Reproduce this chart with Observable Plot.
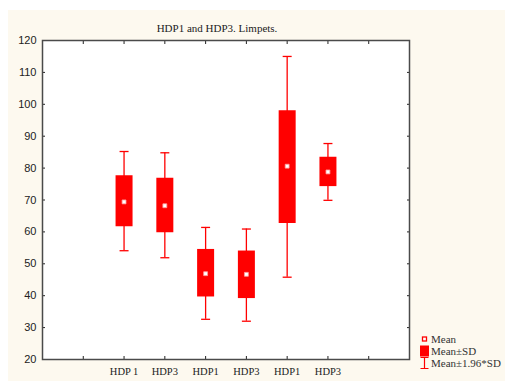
<!DOCTYPE html>
<html>
<head>
<meta charset="utf-8">
<script src="https://cdn.jsdelivr.net/npm/d3@7"></script>
<script src="https://cdn.jsdelivr.net/npm/@observablehq/plot@0.6"></script>
<style>
  html, body { margin: 0; padding: 0; background: white; }
  #wrap { position: relative; width: 505px; height: 381px; overflow: hidden; }
  #bg { position: absolute; left: 8px; top: 10px; width: 497px; height: 371px; background: #fdf9ef; }
  #chart { position: absolute; left: 0; top: 0; }
  #legend { position: absolute; left: 419px; top: 333px; font-family: "Liberation Serif", "DejaVu Serif", serif; font-size: 11px; color: #333; }
  #legend div { height: 12px; line-height: 12px; display: flex; align-items: center; }
  #legend svg { width: 11px; height: 12px; margin-right: 1px; overflow: visible; }
</style>
</head>
<body>
<div id="wrap">
  <div id="bg"></div>
  <div id="chart"></div>
  <div id="legend"></div>
</div>
<script>
// ---- data ----
const title = "HDP1 and HDP3. Limpets.";
const categories = ["HDP 1", "HDP3", "HDP1", "HDP3", "HDP1", "HDP3"];
const means   = [69.4, 68.2, 46.9, 46.7, 80.6, 78.8];
const sdLow   = [61.6, 59.7, 39.6, 39.1, 62.6, 74.2];
const sdHigh  = [77.6, 76.8, 54.5, 54.0, 98.0, 83.4];
const ciLow   = [54.1, 51.9, 32.6, 32.0, 45.8, 69.9];
const ciHigh  = [85.2, 84.8, 61.4, 60.9, 115.0, 87.7];
const yTicks  = [20, 30, 40, 50, 60, 70, 80, 90, 100, 110, 120];
const xTicks  = [0, 1, 2, 3, 4, 5, 6, 7, 8, 9];
const legendLabels = ["Mean", "Mean±SD", "Mean±1.96*SD"];

const firstSlot = 2; // categories occupy slots 2..7 of a 0..9 axis
const data = categories.map((c, i) => ({
  label: c, pos: i + firstSlot, mean: means[i],
  sdLo: sdLow[i], sdHi: sdHigh[i], ciLo: ciLow[i], ciHi: ciHigh[i]
}));

const RED = "#ff0000";
const FRAME = "#4a4a4a";
const capSymbol = { draw(ctx) { ctx.moveTo(-4.5, 0); ctx.lineTo(4.5, 0); } };

const chart = Plot.plot({
  width: 505, height: 381,
  marginLeft: 42, marginRight: 96, marginTop: 40, marginBottom: 22,
  style: { background: "transparent", overflow: "visible" },
  x: { type: "linear", domain: [0, 9] },
  y: { domain: [20, 120] },
  marks: [
    Plot.frame({ fill: "white", stroke: "none" }),
    // whiskers
    Plot.ruleX(data, { x: "pos", y1: "ciLo", y2: "ciHi", stroke: RED, strokeWidth: 1.3 }),
    Plot.dot(data, { x: "pos", y: "ciLo", symbol: capSymbol, stroke: RED, strokeWidth: 1.3, fill: "none" }),
    Plot.dot(data, { x: "pos", y: "ciHi", symbol: capSymbol, stroke: RED, strokeWidth: 1.3, fill: "none" }),
    // boxes
    Plot.ruleX(data, { x: "pos", y1: "sdLo", y2: "sdHi", stroke: RED, strokeWidth: 17 }),
    // means
    Plot.dot(data, { x: "pos", y: "mean", symbol: "square", r: 2.2, fill: "white", stroke: "#ff9a9a", strokeWidth: 0.8 }),
    // axes
    Plot.axisY({ anchor: "left", ticks: yTicks, tickSize: -3, tickPadding: 9, tickFormat: d => d,
      label: null, color: "#222", strokeWidth: 1, fontFamily: "Liberation Sans, Arial, sans-serif", fontSize: 11 }),
    Plot.axisY({ anchor: "right", ticks: yTicks, tickSize: -3, fill: "none", label: null, stroke: "#222" }),
    Plot.axisX({ anchor: "bottom", ticks: xTicks, tickSize: -3, tickPadding: 11, label: null, color: "#222",
      tickFormat: d => categories[d - firstSlot] ?? "",
      fontFamily: "Liberation Serif, DejaVu Serif, serif", fontSize: 10.5 }),
    Plot.axisX({ anchor: "top", ticks: xTicks, tickSize: -3, fill: "none", label: null, stroke: "#222" }),
    Plot.frame({ stroke: FRAME, strokeWidth: 1.5 }),
    Plot.text([title], { frameAnchor: "top", dy: -16, dx: -9, text: d => d,
      fontFamily: "Liberation Serif, DejaVu Serif, serif", fontSize: 11, fill: "#222" })
  ]
});
document.getElementById("chart").appendChild(chart);

// legend
const legendSymbols = [
  `<svg viewBox="0 0 11 12"><rect x="3.5" y="4" width="4" height="4" fill="white" stroke="${RED}" stroke-width="1.3"/></svg>`,
  `<svg viewBox="0 0 11 12"><rect x="1" y="0.5" width="9" height="11" fill="${RED}"/></svg>`,
  `<svg viewBox="0 0 11 12"><path d="M1.5 0.5H9.5M5.5 0.5V11.5M1.5 11.5H9.5" stroke="${RED}" stroke-width="1.2" fill="none"/></svg>`
];
const leg = document.getElementById("legend");
legendLabels.forEach((t, i) => {
  const row = document.createElement("div");
  row.innerHTML = legendSymbols[i] + `<span>${t}</span>`;
  leg.appendChild(row);
});
</script>
</body>
</html>
